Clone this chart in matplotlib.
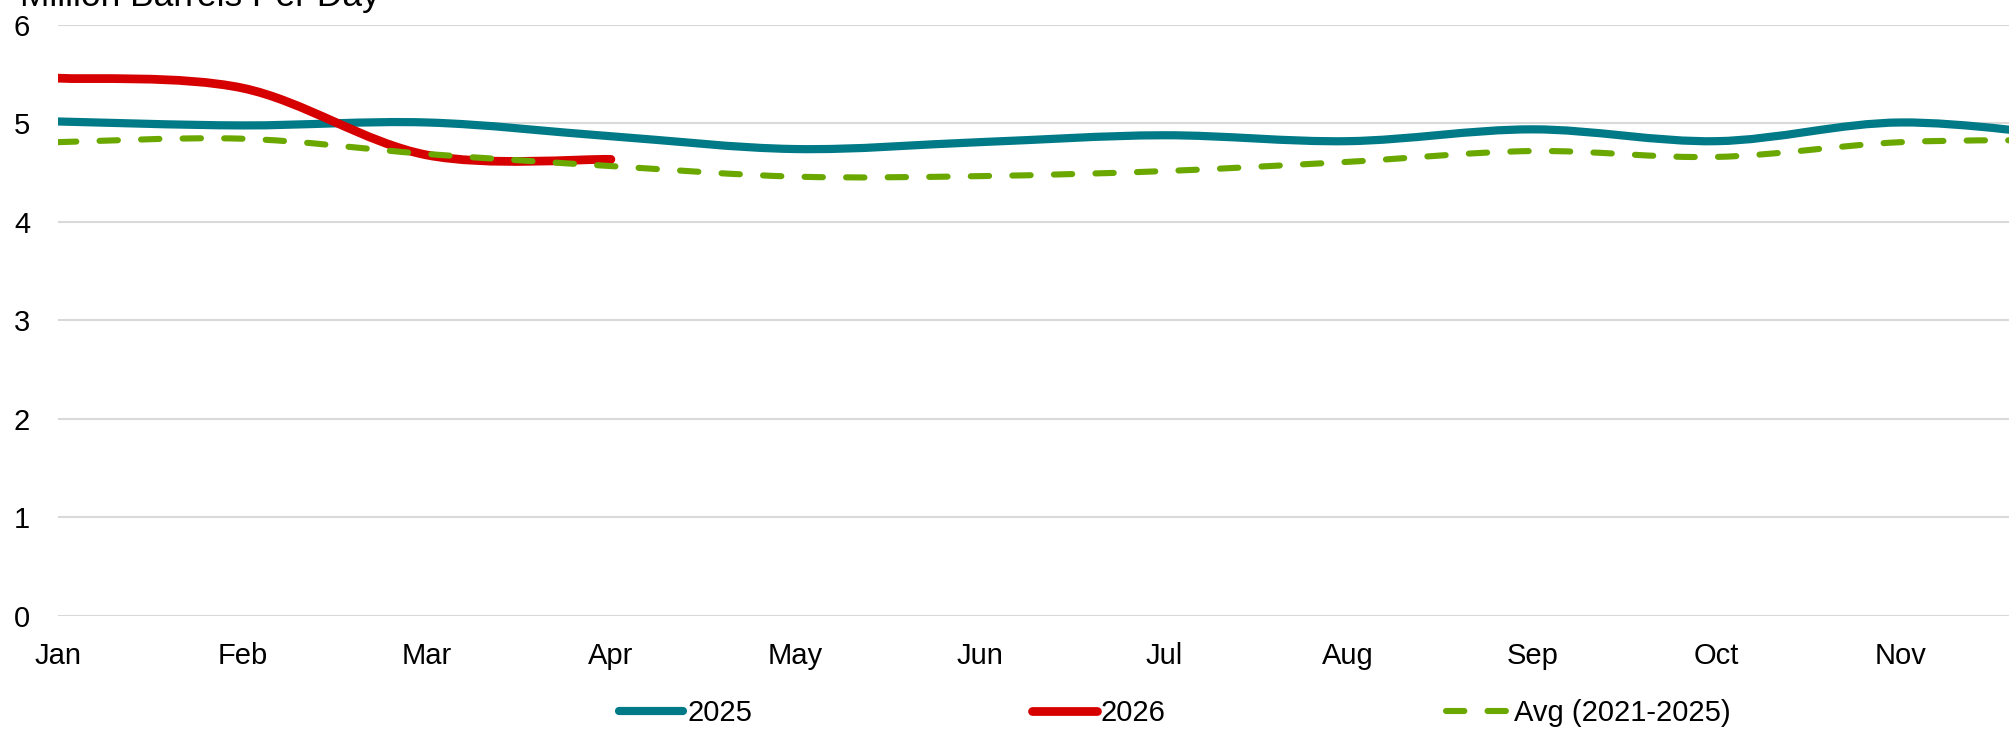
import matplotlib
matplotlib.use("Agg")
import matplotlib.pyplot as plt
from matplotlib.path import Path
from matplotlib.patches import PathPatch
from matplotlib.lines import Line2D

plt.rcParams['font.family'] = ['Liberation Sans', 'DejaVu Sans']

months = ['Jan', 'Feb', 'Mar', 'Apr', 'May', 'Jun', 'Jul', 'Aug', 'Sep', 'Oct', 'Nov', 'Dec']
y2025 = [5.02, 4.98, 5.01, 4.87, 4.74, 4.81, 4.88, 4.82, 4.94, 4.82, 5.01, 4.85]
y2026 = [5.46, 5.36, 4.68, 4.635]
avg = [4.81, 4.845, 4.69, 4.567, 4.46, 4.465, 4.516, 4.61, 4.72, 4.66, 4.81, 4.83]
yticks = [0, 1, 2, 3, 4, 5, 6]
title = 'Million Barrels Per Day'
labels = ['2025', '2026', 'Avg (2021-2025)']

C_TEAL = '#007A87'
C_RED = '#D60000'
C_GREEN = '#6AA800'
FS = 21
FS_TITLE = 25.5


def smooth_path(xs, ys):
    pts = list(zip(xs, ys))
    n = len(pts)
    verts = [pts[0]]
    codes = [Path.MOVETO]
    for i in range(n - 1):
        p0 = pts[i - 1] if i > 0 else pts[i]
        p1 = pts[i]
        p2 = pts[i + 1]
        p3 = pts[i + 2] if i + 2 < n else pts[i + 1]
        c1 = (p1[0] + (p2[0] - p0[0]) / 6, p1[1] + (p2[1] - p0[1]) / 6)
        c2 = (p2[0] - (p3[0] - p1[0]) / 6, p2[1] - (p3[1] - p1[1]) / 6)
        verts += [c1, c2, p2]
        codes += [Path.CURVE4] * 3
    return Path(verts, codes)


fig = plt.figure(figsize=(20.09, 7.29), dpi=100)
ax = fig.add_axes([58 / 2009, (729 - 615.7) / 729, 2027.3 / 2009, 590.7 / 729])

ax.set_xlim(0, 11)
ax.set_ylim(0, 6)
ax.set_yticks(yticks)
ax.set_xticks(range(len(months)))
ax.set_xticklabels(months)
for s in ax.spines.values():
    s.set_visible(False)
ax.tick_params(axis='both', length=0, labelsize=FS, colors='black')
ax.tick_params(axis='y', pad=20)
ax.tick_params(axis='x', pad=19)
ax.grid(axis='y', color='#D9D9D9', linewidth=1.5)
ax.set_axisbelow(True)
# the last month's label lies beyond the cropped right edge
ax.get_xticklabels()[-1].set_visible(False)

series = [
    (y2025, C_TEAL, 5.9, '-'),
    (y2026, C_RED, 6.3, '-'),
    (avg, C_GREEN, 4.4, (0, (3.0, 3.8))),
]
handles = []
for vals, col, lw, ls in series:
    xs = list(range(len(vals)))
    p = PathPatch(smooth_path(xs, vals), fill=False, edgecolor=col, linewidth=lw,
                  linestyle=ls, capstyle='round', joinstyle='round',
                  transform=ax.transData, zorder=3)
    ax.add_patch(p)
    handles.append(Line2D([], [], color=col, linewidth=lw, linestyle=ls,
                          solid_capstyle='round', dash_capstyle='round'))

fig.legend(handles, labels, loc='center', bbox_to_anchor=(1175 / 2009, 16 / 729),
           ncol=3, frameon=False, fontsize=FS, handlelength=2.2,
           handletextpad=0.15, columnspacing=9.6, borderpad=0, borderaxespad=0)

fig.text(20 / 2009, 1 - 6 / 729, title, fontsize=FS_TITLE, va='baseline', ha='left', color='black')

fig.savefig('out.png', dpi=100)
